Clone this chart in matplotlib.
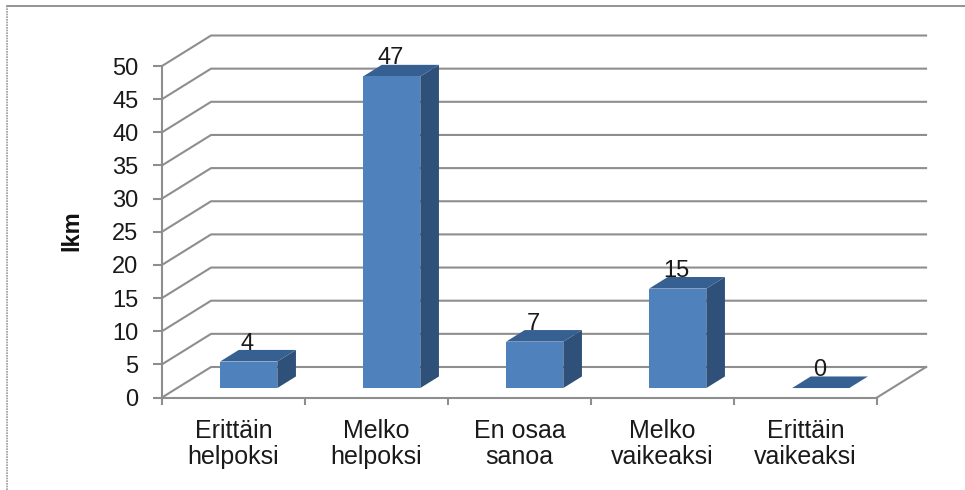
import matplotlib
matplotlib.use("Agg")
import matplotlib.pyplot as plt
from matplotlib.lines import Line2D

plt.rcParams['font.family'] = ['Liberation Sans', 'DejaVu Sans']

kategoriat = ["Erittäin\nhelpoksi", "Melko\nhelpoksi", "En osaa\nsanoa", "Melko\nvaikeaksi", "Erittäin\nvaikeaksi"]
arvot = [4, 47, 7, 15, 0]
y_tikit = [0, 5, 10, 15, 20, 25, 30, 35, 40, 45, 50]

# vino syvyys dataykskoissa (x = kategoria, y = lkm)
DX = 0.343
DY = 4.6
Z0 = 0.31
Z1 = 0.69
LEVEYS = 0.40

SININEN = '#4f81bd'
SIVU = '#2f5078'
KATTO = '#376092'
VIIVA = '#8e8e8e'
TEKSTI = '#1a1a1a'


def proj(x, y, z):
    return x + z * DX, y + z * DY


def laatta(ax, pisteet, vari, z):
    xs, ys = zip(*[proj(*p) for p in pisteet])
    ax.fill(xs, ys, color=vari, lw=0, zorder=z, clip_on=False)


fig = plt.figure(figsize=(9.65, 4.9), dpi=100)
ax = fig.add_axes([162 / 965, 92.5 / 490, 715 / 965, 331.5 / 490])
ax.set_xlim(0, len(arvot))
ax.set_ylim(0, 50)

# seinien ja lattian viivat
for t in y_tikit:
    x1, y1 = proj(0, t, 1)
    x2, y2 = proj(len(arvot), t, 1)
    ax.plot([0, x1, x2], [t, y1, y2], color=VIIVA, lw=1.5, zorder=1, clip_on=False)
x1, y1 = proj(len(arvot), 0, 1)
ax.plot([len(arvot), x1], [0, y1], color=VIIVA, lw=1.5, zorder=1, clip_on=False)

# palkit
for i, v in enumerate(arvot):
    a = i + 0.5 - LEVEYS / 2
    b = i + 0.5 + LEVEYS / 2
    if v > 0:
        laatta(ax, [(a, 0, Z0), (b, 0, Z0), (b, v, Z0), (a, v, Z0)], SININEN, 4)
        laatta(ax, [(b, 0, Z0), (b, 0, Z1), (b, v, Z1), (b, v, Z0)], SIVU, 3)
    laatta(ax, [(a, v, Z0), (b, v, Z0), (b, v, Z1), (a, v, Z1)], KATTO, 3)
    lx, _ = proj(i + 0.5, v, Z0)
    _, ly = proj(i + 0.5, v, Z1)
    ax.text(lx - 0.01, ly - 0.7, str(v), ha='center', va='bottom', fontsize=17,
            color=TEKSTI, zorder=5)

for s in ['top', 'right']:
    ax.spines[s].set_visible(False)
for s in ['left', 'bottom']:
    ax.spines[s].set_color(VIIVA)
    ax.spines[s].set_linewidth(1.5)

ax.set_yticks(y_tikit)
ax.tick_params(axis='y', length=6.5, width=1.5, color=VIIVA, pad=10.5, labelsize=17, labelcolor=TEKSTI)
ax.set_xticks(range(len(arvot) + 1))
ax.set_xticklabels([])
ax.tick_params(axis='x', which='major', length=5, width=1.5, color=VIIVA)
ax.set_xticks([i + 0.5 for i in range(len(arvot))], minor=True)
ax.set_xticklabels(kategoriat, minor=True, fontsize=18, color=TEKSTI, linespacing=1.1)
ax.tick_params(axis='x', which='minor', length=0, pad=15.5)

fig.text(72 / 965, 1 - 231 / 490, "lkm", rotation=90, ha='center', va='center',
         fontsize=17, fontweight='bold', color='#111111')

# kehys
fig.add_artist(Line2D([7 / 965, 1], [1 - 6.5 / 490, 1 - 6.5 / 490], color='#808080', lw=1.2))
fig.add_artist(Line2D([7 / 965, 7 / 965], [0, 1 - 6.5 / 490], color='#999999', lw=1.2, ls=(0, (1, 0.6))))

fig.savefig("out.png", dpi=100)
